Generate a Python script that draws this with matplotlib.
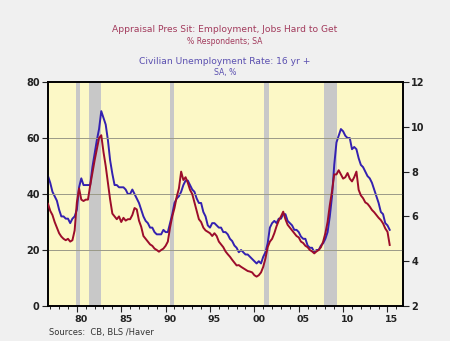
"""Jobs hard to get (Conference Board) vs civilian unemployment rate, 1977-2015."""
import numpy as np
import pandas as pd
import matplotlib
matplotlib.use('Agg')
import matplotlib.pyplot as plt
from matplotlib.transforms import ScaledTranslation

# quarterly, 1976Q4 .. 2015Q2
quarters = pd.period_range('1976Q4', '2015Q2', freq='Q')
dates = quarters.year + (quarters.quarter - 1) / 4.0

# Appraisal Pres Sit: Employment, Jobs Hard to Get (% respondents, left axis)
jobs_hard = [
    36.5,
    34, 32.5, 30, 28,
    26, 24.8, 24, 23.5,
    24, 23, 23.5, 27,
    37, 42, 38, 37.5,
    38, 38, 43, 47.5,
    52, 56, 60, 61,
    55, 50, 44, 38,
    33, 32, 31, 32,
    30, 31.5, 30.5, 31,
    31, 32.5, 35, 34.5,
    30.5, 28.3, 25, 24,
    23, 22, 21.5, 20.5,
    20, 19.4, 20, 20.5,
    21.5, 23, 28, 32,
    35, 39, 42, 48,
    45, 46, 44, 41.5,
    40, 37, 34, 31,
    30, 28, 27, 26.5,
    26, 25, 26, 25,
    23, 22, 21, 19.5,
    18.5, 17.6, 16.5, 15.5,
    14.5, 14.6, 14, 13.5,
    13, 12.5, 12.3, 12,
    11, 10.5, 11, 12,
    14, 17, 21, 23,
    24, 26, 28.5, 30.5,
    32, 33.7, 31, 29,
    28, 27, 26, 25,
    24.5, 23, 22.5, 21.5,
    21, 20, 19.5, 18.8,
    19.5, 20, 21, 23,
    26, 30, 36, 41,
    47, 47, 48.5, 47,
    45.5, 46, 47.5, 45.5,
    44.5, 46, 48, 41.5,
    39.5, 38.5, 37, 36.5,
    35.5, 34.3, 33.5, 32.5,
    31.5, 30.7, 29.5, 27.7,
    26.5, 21.8,
]

# Civilian Unemployment Rate: 16 yr + (%, right axis)
unemp = [
    7.8,
    7.5, 7.1, 6.9, 6.7,
    6.3, 6.0, 6.0, 5.9,
    5.9, 5.7, 5.9, 6.0,
    6.3, 7.3, 7.7, 7.4,
    7.4, 7.4, 7.4, 8.2,
    8.8, 9.4, 9.9, 10.7,
    10.4, 10.1, 9.4, 8.5,
    7.9, 7.4, 7.4, 7.3,
    7.3, 7.3, 7.2, 7.0,
    7.0, 7.2, 7.0, 6.8,
    6.6, 6.3, 6.0, 5.8,
    5.7, 5.5, 5.5, 5.3,
    5.2, 5.2, 5.2, 5.4,
    5.3, 5.3, 5.7, 6.1,
    6.6, 6.8, 6.9, 7.1,
    7.4, 7.6, 7.6, 7.4,
    7.2, 7.1, 6.8, 6.6,
    6.6, 6.2, 6.0, 5.6,
    5.5, 5.7, 5.7, 5.6,
    5.5, 5.5, 5.3, 5.3,
    5.2, 5.0, 4.9, 4.7,
    4.6, 4.4, 4.5, 4.4,
    4.3, 4.3, 4.2, 4.1,
    4.0, 3.9, 4.0, 3.9,
    4.2, 4.4, 4.8, 5.5,
    5.7, 5.8, 5.7, 5.9,
    5.9, 6.1, 6.1, 5.8,
    5.7, 5.6, 5.4, 5.4,
    5.3, 5.1, 5.0, 5.0,
    4.7, 4.6, 4.6, 4.4,
    4.5, 4.5, 4.7, 4.8,
    5.0, 5.3, 6.0, 6.9,
    8.3, 9.3, 9.6, 9.9,
    9.8, 9.6, 9.5, 9.5,
    9.0, 9.1, 9.0, 8.6,
    8.3, 8.2, 8.0, 7.8,
    7.7, 7.5, 7.2, 6.9,
    6.6, 6.2, 6.1, 5.7,
    5.6, 5.4,
]

# NBER recessions as shaded on the chart
recessions = [(1979.95, 1980.4), (1981.42, 1982.68), (1990.45, 1991.0),
              (2001.05, 2001.65), (2007.8, 2009.3)]

year_ticks = [1980, 1985, 1990, 1995, 2000, 2005, 2010, 2015]
year_labels = ['80', '85', '90', '95', '00', '05', '10', '15']

RED = '#9c0d2b'
BLUE = '#3421b0'

fig = plt.figure(figsize=(4.5, 3.41), dpi=100, facecolor='#f0f0f0')
ax2 = fig.add_axes([0.1067, 0.1026, 0.7889, 0.6569])   # unemployment, right
ax = ax2.twinx()                                       # jobs hard to get, left
ax.yaxis.tick_left()
ax2.yaxis.tick_right()
ax2.set_facecolor('#fcf8c6')
ax.patch.set_visible(False)

for a, b in recessions:
    ax2.axvspan(a, b, color='#c8c8c8', lw=0, zorder=0)

ax2.plot(dates, unemp, color=BLUE, lw=1.4, zorder=3)
ax.plot(dates, jobs_hard, color=RED, lw=1.4, zorder=3)

ax2.set_xlim(1976.75, 2016.75)
ax.set_ylim(0, 80)
ax2.set_ylim(2, 12)
ax.set_yticks([0, 20, 40, 60, 80])
ax2.set_yticks([2, 4, 6, 8, 10, 12])
for y in (20, 40, 60):
    ax.axhline(y, color='#9a9a88', lw=0.7, zorder=1)

ax2.set_xticks(year_ticks)
ax2.set_xticklabels(year_labels)
ax2.set_xticks(range(1977, 2017), minor=True)

for a in (ax, ax2):
    for s in a.spines.values():
        s.set_linewidth(1.2)
        s.set_color('black')
    a.tick_params(labelsize=7, width=0.8, length=4, pad=2, colors='#222222')
ax2.tick_params(axis='x', which='major', length=4, pad=2.5, labelsize=6.8)
ax2.tick_params(axis='x', which='minor', length=2, width=0.6)
ax.tick_params(axis='x', bottom=False, labelbottom=False, which='both')

# labels sit in the middle of the year
shift = ScaledTranslation(4.4 / 100, 0, fig.dpi_scale_trans)
for lab in ax2.get_xticklabels():
    lab.set_transform(lab.get_transform() + shift)
for lab in ax2.get_xticklabels() + ax2.get_yticklabels() + ax.get_yticklabels():
    lab.set_fontweight('bold')

fig.text(0.5, 0.913, 'Appraisal Pres Sit: Employment, Jobs Hard to Get',
         ha='center', va='center', fontsize=6.6, color='#a23a5c')
fig.text(0.5, 0.879, '% Respondents; SA', ha='center', va='center',
         fontsize=5.6, color='#a23a5c')
fig.text(0.5, 0.821, 'Civilian Unemployment Rate: 16 yr +',
         ha='center', va='center', fontsize=6.6, color='#5a4fb0')
fig.text(0.5, 0.788, 'SA, %', ha='center', va='center',
         fontsize=5.6, color='#5a4fb0')
fig.text(0.108, 0.024, 'Sources:  CB, BLS /Haver', ha='left', va='center',
         fontsize=6, color='#333333')

fig.savefig('out.png', dpi=100, facecolor=fig.get_facecolor())
